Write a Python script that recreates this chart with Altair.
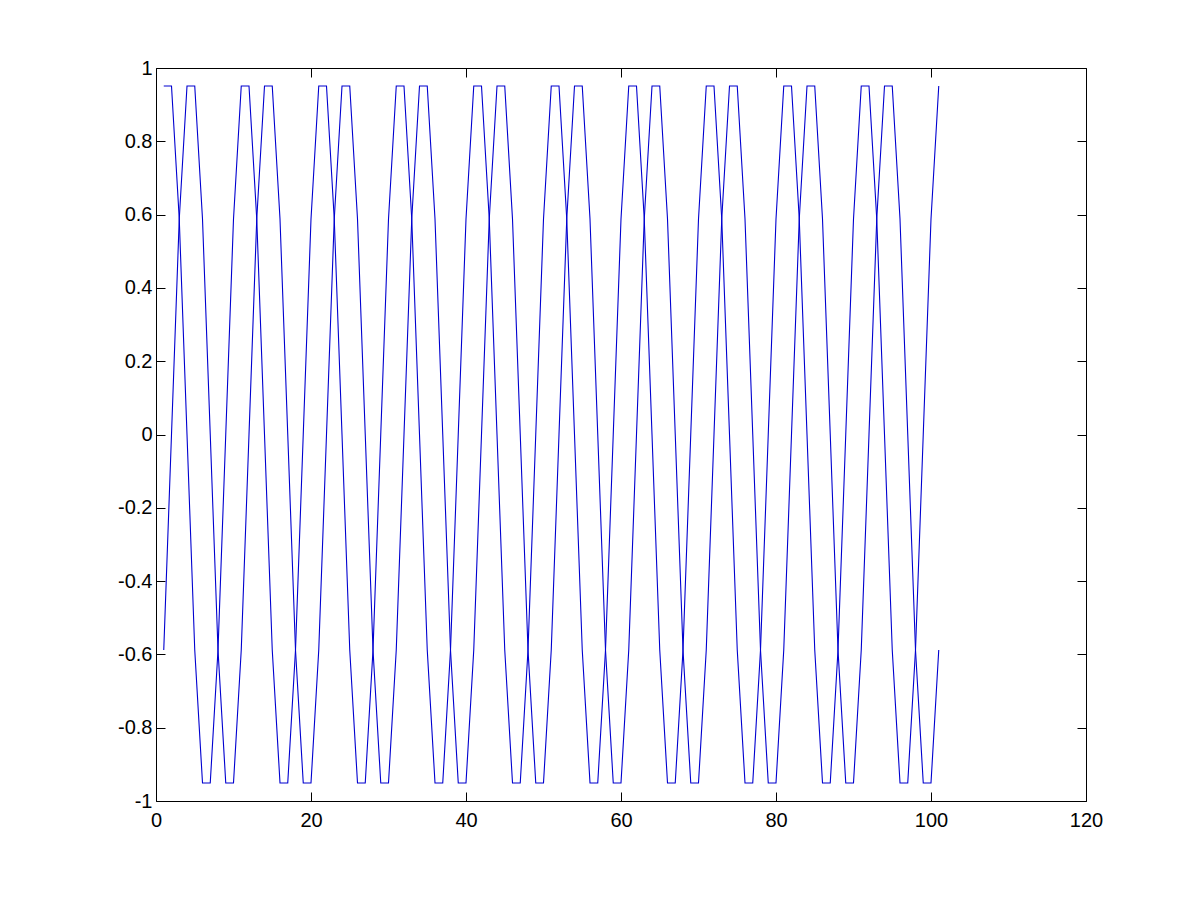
import altair as alt
import pandas as pd

# sample index
n = list(range(1, 102))

# first trace
series_a = [
    0.951, 0.951, 0.588, 0.0, -0.588, -0.951, -0.951, -0.588, 0.0, 0.588,
    0.951, 0.951, 0.588, 0.0, -0.588, -0.951, -0.951, -0.588, 0.0, 0.588,
    0.951, 0.951, 0.588, 0.0, -0.588, -0.951, -0.951, -0.588, 0.0, 0.588,
    0.951, 0.951, 0.588, 0.0, -0.588, -0.951, -0.951, -0.588, 0.0, 0.588,
    0.951, 0.951, 0.588, 0.0, -0.588, -0.951, -0.951, -0.588, 0.0, 0.588,
    0.951, 0.951, 0.588, 0.0, -0.588, -0.951, -0.951, -0.588, 0.0, 0.588,
    0.951, 0.951, 0.588, 0.0, -0.588, -0.951, -0.951, -0.588, 0.0, 0.588,
    0.951, 0.951, 0.588, 0.0, -0.588, -0.951, -0.951, -0.588, 0.0, 0.588,
    0.951, 0.951, 0.588, 0.0, -0.588, -0.951, -0.951, -0.588, 0.0, 0.588,
    0.951, 0.951, 0.588, 0.0, -0.588, -0.951, -0.951, -0.588, 0.0, 0.588,
    0.951,
]

# second trace
series_b = [
    -0.588, 0.0, 0.588, 0.951, 0.951, 0.588, 0.0, -0.588, -0.951, -0.951,
    -0.588, 0.0, 0.588, 0.951, 0.951, 0.588, 0.0, -0.588, -0.951, -0.951,
    -0.588, 0.0, 0.588, 0.951, 0.951, 0.588, 0.0, -0.588, -0.951, -0.951,
    -0.588, 0.0, 0.588, 0.951, 0.951, 0.588, 0.0, -0.588, -0.951, -0.951,
    -0.588, 0.0, 0.588, 0.951, 0.951, 0.588, 0.0, -0.588, -0.951, -0.951,
    -0.588, 0.0, 0.588, 0.951, 0.951, 0.588, 0.0, -0.588, -0.951, -0.951,
    -0.588, 0.0, 0.588, 0.951, 0.951, 0.588, 0.0, -0.588, -0.951, -0.951,
    -0.588, 0.0, 0.588, 0.951, 0.951, 0.588, 0.0, -0.588, -0.951, -0.951,
    -0.588, 0.0, 0.588, 0.951, 0.951, 0.588, 0.0, -0.588, -0.951, -0.951,
    -0.588, 0.0, 0.588, 0.951, 0.951, 0.588, 0.0, -0.588, -0.951, -0.951,
    -0.588,
]

x_ticks = [0, 20, 40, 60, 80, 100, 120]
y_ticks = [-1, -0.8, -0.6, -0.4, -0.2, 0, 0.2, 0.4, 0.6, 0.8, 1]

df = pd.DataFrame({
    "n": n + n,
    "value": series_a + series_b,
    "series": ["a"] * len(n) + ["b"] * len(n),
})

FONT = "Liberation Sans"
FS = 20
xs = alt.Scale(domain=[0, 120], nice=False, zero=False)
ys = alt.Scale(domain=[-1, 1], nice=False, zero=False)
LBL = "'' + datum.value"

base = alt.Chart(df)

main = base.mark_line(color="#0000d0", strokeWidth=1.1).encode(
    x=alt.X("n:Q", scale=xs, axis=alt.Axis(
        orient="bottom", values=x_ticks, ticks=False, domain=False, grid=False,
        labelPadding=9, labelFlush=False, labelExpr=LBL, labelFont=FONT,
        labelFontSize=FS, labelColor="black", title=None)),
    y=alt.Y("value:Q", scale=ys, axis=alt.Axis(
        orient="left", values=y_ticks, ticks=False, domain=False, grid=False,
        labelPadding=4, labelFlush=False, labelExpr=LBL, labelFont=FONT,
        labelFontSize=FS, labelColor="black", title=None)),
    detail="series:N",
)

def tick_layer(xo, yo):
    return base.mark_line(strokeOpacity=0).encode(
        x=alt.X("n:Q", scale=xs, axis=alt.Axis(
            orient=xo, values=x_ticks, labels=False, domain=False, grid=False,
            ticks=True, tickSize=9, offset=-9, tickColor="black", title=None)),
        y=alt.Y("value:Q", scale=ys, axis=alt.Axis(
            orient=yo, values=y_ticks, labels=False, domain=False, grid=False,
            ticks=True, tickSize=9, offset=-9, tickColor="black", title=None)),
        detail="series:N",
    )

chart = alt.layer(
    main, tick_layer("bottom", "left"), tick_layer("top", "right")
).resolve_axis(x="independent", y="independent").properties(
    width=930, height=733,
    autosize=alt.AutoSizeParams(type="none"),
    padding={"left": 148, "top": 60, "right": 106, "bottom": 91},
    background="white",
).configure_view(stroke="black", strokeWidth=1)

chart.save("out.html", embed_options={"renderer": "svg", "actions": False})
